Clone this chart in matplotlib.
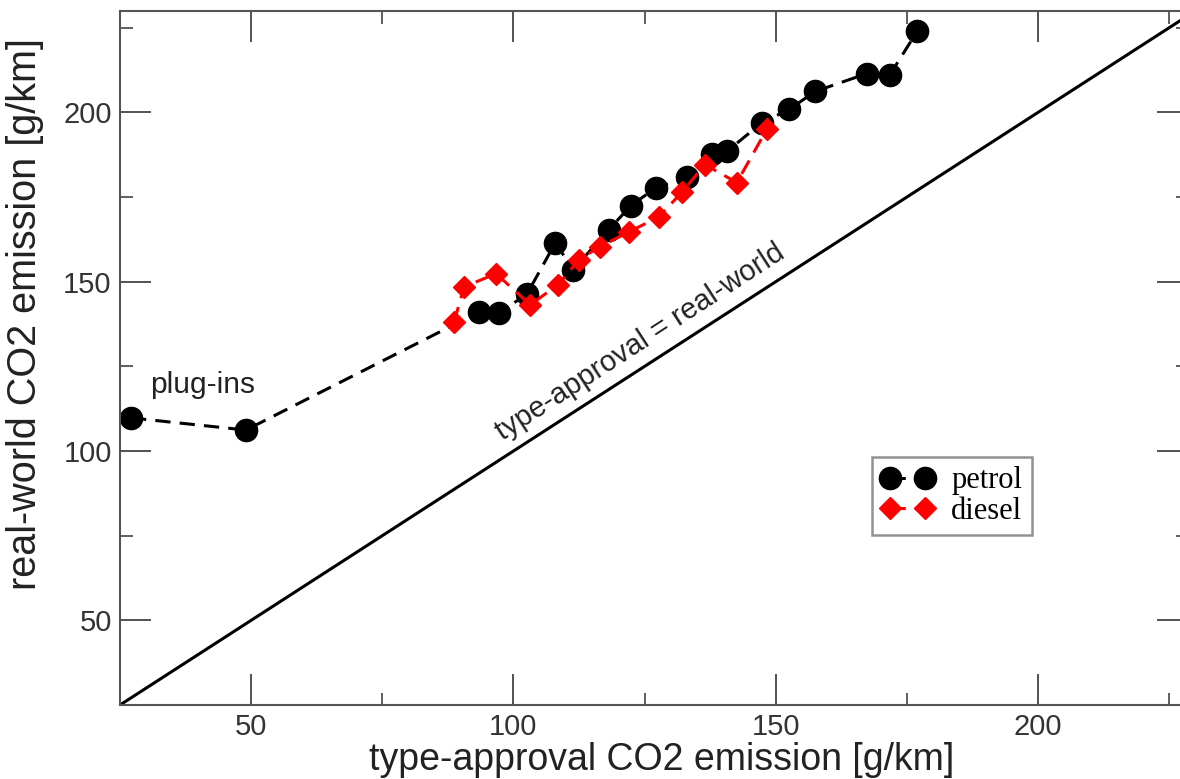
import matplotlib
matplotlib.use("Agg")
import matplotlib.pyplot as plt
from matplotlib.ticker import MultipleLocator

# Data
petrol_x = [27.1, 49.0, 93.5, 97.3, 102.6, 108.0, 111.4, 118.2, 122.4, 127.2, 133.1,
            137.9, 140.7, 147.4, 152.6, 157.5, 167.4, 171.8, 177.0]
petrol_y = [109.8, 106.2, 141.1, 140.8, 146.4, 161.5, 153.6, 165.4, 172.5, 177.8, 180.8,
            187.6, 188.5, 197.0, 200.9, 206.2, 211.5, 211.2, 224.0]
diesel_x = [88.7, 90.6, 96.7, 103.2, 108.5, 112.5, 116.5, 122.1, 127.8, 132.2, 136.5,
            142.6, 148.3]
diesel_y = [138.2, 148.5, 152.4, 143.2, 149.1, 156.5, 160.4, 164.8, 169.2, 176.6, 184.6,
            179.3, 195.0]
ident = [0, 300]
x_ticks = [50, 100, 150, 200]
y_ticks = [50, 100, 150, 200]

plt.rcParams['font.family'] = ['Liberation Sans', 'DejaVu Sans']

fig = plt.figure(figsize=(11.8, 7.79), dpi=100)
ax = fig.add_axes([0.1017, 0.095, 0.905, 0.891])

dash = (0, (5, 3))
ax.plot(ident, ident, color='black', lw=2.2, zorder=1)
ax.plot(petrol_x, petrol_y, color='black', ls=dash, lw=2.2, marker='o',
        markersize=16, markerfacecolor='black', markeredgecolor='black',
        label='petrol', zorder=2)
ax.plot(diesel_x, diesel_y, color='red', ls=dash, lw=2.2, marker='D',
        markersize=11.5, markerfacecolor='red', markeredgecolor='red',
        label='diesel', zorder=3)

ax.set_xlim(25, 228.6)
ax.set_ylim(25, 230)
ax.set_xticks(x_ticks)
ax.set_yticks(y_ticks)
ax.xaxis.set_minor_locator(MultipleLocator(25))
ax.yaxis.set_minor_locator(MultipleLocator(25))
ax.tick_params(which='both', direction='in', top=True, right=True, color='#444444')
ax.tick_params(which='major', length=22, width=1.3, labelsize=21, pad=6,
               labelcolor='#333333')
ax.tick_params(which='minor', length=9, width=1.2)
for s in ax.spines.values():
    s.set_color('#555555')
    s.set_linewidth(1.5)

ax.set_xlabel('type-approval CO2 emission [g/km]', fontsize=27, color='#222222')
ax.set_ylabel('real-world CO2 emission [g/km]', fontsize=28.5, color='#222222')
ax.xaxis.set_label_coords(0.5075, -0.079)
ax.xaxis.label.set_va('center')
ax.yaxis.set_label_coords(-0.089, 0.563)
ax.yaxis.label.set_va('center')

ax.text(30.7, 119.5, 'plug-ins', fontsize=21.5, color='#222222', ha='left', va='center')
ax.text(124.2, 132.2, 'type-approval = real-world', fontsize=21, color='#222222',
        rotation=33, rotation_mode='anchor', ha='center', va='center')

leg = ax.legend(loc='upper left', bbox_to_anchor=(0.704, 0.357), borderaxespad=0,
                numpoints=2, prop={'family': 'Liberation Serif', 'size': 22},
                frameon=True, fancybox=False, edgecolor='#777777', handlelength=1.75,
                handletextpad=0.55, borderpad=0.3, labelspacing=0.05, markerscale=1.0)
leg.get_frame().set_linewidth(1.8)

fig.savefig('out.png', dpi=100)
